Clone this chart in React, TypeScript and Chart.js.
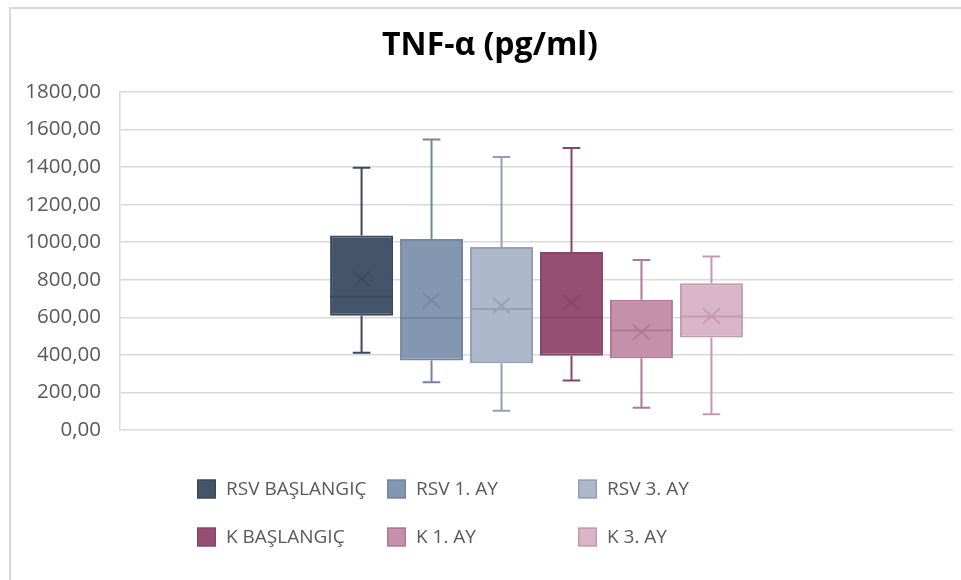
import React, { useEffect, useRef } from 'react';
import { Chart, registerables } from 'chart.js';

Chart.register(...registerables);

const chartTitle = 'TNF-α (pg/ml)';
const categories = ['RSV BAŞLANGIÇ', 'RSV 1. AY', 'RSV 3. AY', 'K BAŞLANGIÇ', 'K 1. AY', 'K 3. AY'];
const minValues = [412, 254, 103, 263, 119, 84];
const q1Values = [608, 370, 356, 395, 382, 492];
const medianValues = [709, 596, 644, 599, 530, 604];
const q3Values = [1036, 1017, 974, 948, 693, 782];
const maxValues = [1397, 1547, 1454, 1502, 905, 924];
const meanValues = [805, 690, 663, 679, 521, 607];
const yMin = 0;
const yMax = 1800;
const yStep = 200;

const fillColors = ['#44546A', '#8497B0', '#ADB9CA', '#954F72', '#C490AA', '#D8B5C7'];
const lineColors = ['#3B495C', '#74869F', '#94A1B4', '#86476A', '#B07896', '#C49AAF'];

const FONT = "'Open Sans', sans-serif";

const boxPlugin = {
  id: 'boxExtras',
  afterDatasetsDraw(chart: any) {
    const ctx = chart.ctx;
    const y = chart.scales.y;
    chart.data.datasets.forEach((_ds: any, i: number) => {
      const meta = chart.getDatasetMeta(i);
      if (meta.hidden) return;
      const bar = meta.data[0];
      if (!bar) return;
      const x = bar.x;
      const w = bar.width;
      const pMin = y.getPixelForValue(minValues[i]);
      const pQ1 = y.getPixelForValue(q1Values[i]);
      const pMed = y.getPixelForValue(medianValues[i]);
      const pQ3 = y.getPixelForValue(q3Values[i]);
      const pMax = y.getPixelForValue(maxValues[i]);
      const pMean = y.getPixelForValue(meanValues[i]);
      const cap = w * 0.14;
      ctx.save();
      ctx.strokeStyle = lineColors[i];
      ctx.lineWidth = 2;
      ctx.lineCap = 'butt';
      ctx.beginPath();
      ctx.moveTo(x, pQ3);
      ctx.lineTo(x, pMax);
      ctx.moveTo(x, pQ1);
      ctx.lineTo(x, pMin);
      ctx.moveTo(x - cap, pMax);
      ctx.lineTo(x + cap, pMax);
      ctx.moveTo(x - cap, pMin);
      ctx.lineTo(x + cap, pMin);
      ctx.moveTo(x - w / 2, pMed);
      ctx.lineTo(x + w / 2, pMed);
      ctx.stroke();
      const sx = 8.5;
      const sy = 7.5;
      ctx.lineWidth = 1.8;
      ctx.beginPath();
      ctx.moveTo(x - sx, pMean - sy);
      ctx.lineTo(x + sx, pMean + sy);
      ctx.moveTo(x + sx, pMean - sy);
      ctx.lineTo(x - sx, pMean + sy);
      ctx.stroke();
      ctx.restore();
    });
  },
  afterDraw(chart: any) {
    const ctx = chart.ctx;
    ctx.save();
    ctx.fillStyle = '#000000';
    ctx.font = `bold 32px ${FONT}`;
    ctx.textAlign = 'center';
    ctx.textBaseline = 'middle';
    ctx.fillText(chartTitle, 490, 46);
    const colX = [197, 387, 578];
    const rowY = [489, 537];
    ctx.font = `19px ${FONT}`;
    ctx.textAlign = 'left';
    ctx.textBaseline = 'middle';
    categories.forEach((label, i) => {
      const cx = colX[i % 3];
      const cy = rowY[Math.floor(i / 3)];
      ctx.fillStyle = fillColors[i];
      ctx.fillRect(cx, cy - 9.5, 19, 19);
      ctx.strokeStyle = lineColors[i];
      ctx.lineWidth = 1.5;
      ctx.strokeRect(cx + 0.75, cy - 8.75, 17.5, 17.5);
      ctx.fillStyle = '#595959';
      ctx.fillText(label, cx + 29, cy + 1);
    });
    ctx.restore();
  },
};

export default function App() {
  const canvasRef = useRef<HTMLCanvasElement | null>(null);

  useEffect(() => {
    const canvas = canvasRef.current;
    if (!canvas) return;
    const chart = new Chart(canvas, {
      type: 'bar',
      data: {
        labels: [''],
        datasets: categories.map((label, i) => ({
          label,
          data: [[q1Values[i], q3Values[i]]] as any,
          backgroundColor: fillColors[i],
          borderColor: lineColors[i],
          borderWidth: 2,
          borderSkipped: false,
          categoryPercentage: 0.504,
          barPercentage: 0.9,
        })),
      },
      options: {
        responsive: false,
        animation: false,
        devicePixelRatio: 1,
        layout: { padding: { top: 92, right: 8, bottom: 150, left: 0 } },
        plugins: {
          legend: { display: false },
          title: { display: false },
          tooltip: { enabled: false },
        },
        scales: {
          x: { display: false },
          y: {
            min: yMin,
            max: yMax,
            afterFit(scale: any) {
              scale.width = 120;
            },
            ticks: {
              stepSize: yStep,
              padding: 19,
              color: '#595959',
              font: { family: FONT, size: 20.5 },
              callback: (v: any) => Number(v).toFixed(2).replace('.', ','),
            },
            grid: { color: '#d9d9d9', lineWidth: 1.5, drawTicks: false },
            border: { display: true, color: '#d9d9d9', width: 1.5 },
          },
        },
      },
      plugins: [boxPlugin],
    });
    return () => chart.destroy();
  }, []);

  return (
    <div style={{ position: 'fixed', left: 0, top: 0, width: 961, height: 580, overflow: 'hidden', background: '#ffffff' }}>
      <div
        style={{
          position: 'absolute',
          left: 9,
          top: 7,
          width: 1000,
          height: 1000,
          borderLeft: '2px solid #d9d9d9',
          borderTop: '2px solid #d9d9d9',
        }}
      />
      <canvas ref={canvasRef} width={961} height={580} style={{ position: 'absolute', left: 0, top: 0, width: 961, height: 580 }} />
    </div>
  );
}
